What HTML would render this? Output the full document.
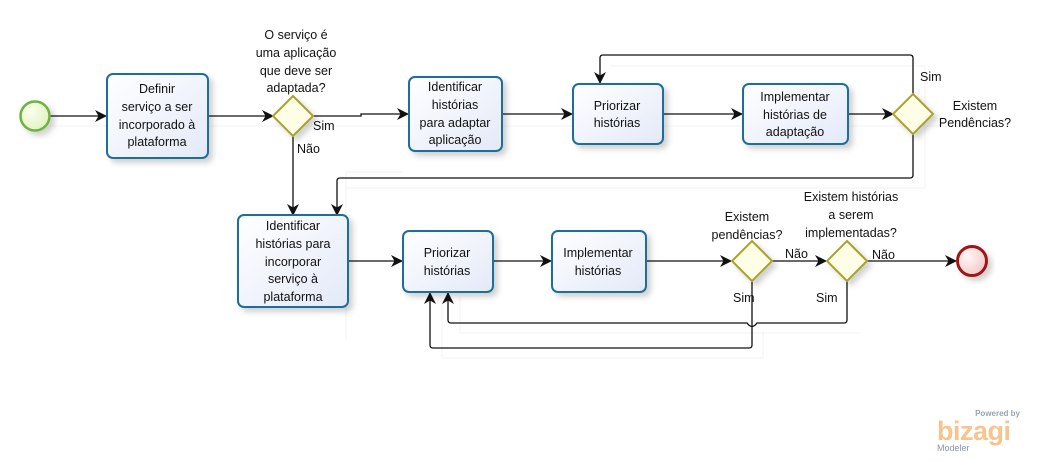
<!DOCTYPE html>
<html><head><meta charset="utf-8"><style>
html,body{margin:0;padding:0;background:#fff;}
svg{display:block;}
text{font-family:"Liberation Sans","DejaVu Sans",sans-serif;font-size:12.5px;fill:#111;}
</style></head><body>
<svg width="1044" height="461" viewBox="0 0 1044 461" xmlns="http://www.w3.org/2000/svg">
<defs>
<linearGradient id="tg" x1="0" y1="0" x2="1" y2="1"><stop offset="0" stop-color="#ffffff"/><stop offset="1" stop-color="#e3e9f8"/></linearGradient>
<radialGradient id="sg" cx="0.35" cy="0.35" r="0.8"><stop offset="0" stop-color="#fbfff0"/><stop offset="1" stop-color="#ddf0b8"/></radialGradient>
<radialGradient id="eg" cx="0.35" cy="0.35" r="0.8"><stop offset="0" stop-color="#fff6f6"/><stop offset="1" stop-color="#efc4c4"/></radialGradient>
<marker id="a" markerWidth="12" markerHeight="12" refX="11" refY="6" orient="auto" markerUnits="userSpaceOnUse"><path d="M0,0 L12,6 L0,12 L3.5,6 z" fill="#111"/></marker>
<filter id="sh" x="-20%" y="-20%" width="150%" height="150%"><feDropShadow dx="4" dy="4" stdDeviation="3" flood-color="#000" flood-opacity="0.18"/></filter>
</defs>

<g stroke="#f3f3f3" fill="none">
<path d="M50,126 H1000"/><path d="M346,172 V340 M346,172 H403"/><path d="M610,66 H925 V188 H346"/>
<path d="M442,297 V358 H763 V330"/><path d="M460,297 V333 H860"/>
</g>

<g fill="none" stroke="#111" stroke-width="1.3">
<path d="M50,116 H106" marker-end="url(#a)"/>
<path d="M208,116 H273" marker-end="url(#a)"/>
<path d="M313,116 H361 V114 H408" marker-end="url(#a)"/>
<path d="M293,136 V215" marker-end="url(#a)"/>
<path d="M502,114 H572" marker-end="url(#a)"/>
<path d="M663,114 H742" marker-end="url(#a)"/>
<path d="M848,114 H893" marker-end="url(#a)"/>
<path d="M913,94 V58 Q913,55 910,55 H603 Q600,55 600,58 V83" marker-end="url(#a)"/>
<path d="M913,134 V175 Q913,178 910,178 H340 Q337,178 337,181 V215" marker-end="url(#a)"/>
<path d="M348,261 H402" marker-end="url(#a)"/>
<path d="M493,261 H551" marker-end="url(#a)"/>
<path d="M646,261 H731" marker-end="url(#a)"/>
<path d="M772,261 H826" marker-end="url(#a)"/>
<path d="M867,261 H956" marker-end="url(#a)"/>
<path d="M752,281 V345 Q752,348 749,348 H433 Q430,348 430,345 V293" marker-end="url(#a)"/>
<path d="M847,281 V320 Q847,323 844,323 H757 Q752,330 747,323 H451 Q448,323 448,320 V293" marker-end="url(#a)"/>
</g>

<circle cx="35" cy="116" r="14.5" fill="url(#sg)" stroke="#6db33f" stroke-width="2.5" filter="url(#sh)"/>
<circle cx="972" cy="261" r="14.5" fill="url(#eg)" stroke="#a01818" stroke-width="3" filter="url(#sh)"/>

<g fill="url(#tg)" stroke="#1f6e9c" stroke-width="2" filter="url(#sh)">
<rect x="107" y="74" width="101" height="84" rx="6"/>
<rect x="409" y="77" width="93" height="74" rx="6"/>
<rect x="573" y="84" width="90" height="60" rx="6"/>
<rect x="743" y="84" width="105" height="60" rx="6"/>
<rect x="238" y="215" width="110" height="92" rx="6"/>
<rect x="403" y="231" width="90" height="61" rx="6"/>
<rect x="552" y="231" width="94" height="61" rx="6"/>
</g>

<g fill="#fefde6" stroke="#a8a22a" stroke-width="2" filter="url(#sh)">
<path d="M293,96 L313,116 L293,136 L273,116 z"/>
<path d="M913,94 L933,114 L913,134 L893,114 z"/>
<path d="M752,241 L772,261 L752,281 L732,261 z"/>
<path d="M847,241 L867,261 L847,281 L827,261 z"/>
</g>

<g text-anchor="middle">
<text x="157" y="93">Definir</text><text x="157" y="111">serviço a ser</text><text x="157" y="129">incorporado à</text><text x="157" y="146">plataforma</text>
<text x="455" y="91">Identificar</text><text x="455" y="109">histórias</text><text x="455" y="127">para adaptar</text><text x="455" y="144">aplicação</text>
<text x="617" y="110">Priorizar</text><text x="617" y="127">histórias</text>
<text x="795" y="101">Implementar</text><text x="795" y="119">histórias de</text><text x="795" y="136">adaptação</text>
<text x="293" y="230">Identificar</text><text x="293" y="248">histórias para</text><text x="293" y="266">incorporar</text><text x="293" y="283">serviço à</text><text x="293" y="301">plataforma</text>
<text x="447" y="257">Priorizar</text><text x="447" y="275">histórias</text>
<text x="598" y="257">Implementar</text><text x="598" y="275">histórias</text>
<text x="296" y="39">O serviço é</text><text x="296" y="57">uma aplicação</text><text x="296" y="75">que deve ser</text><text x="296" y="92">adaptada?</text>
<text x="975" y="110">Existem</text><text x="975" y="127">Pendências?</text>
<text x="747" y="221">Existem</text><text x="747" y="239">pendências?</text>
<text x="851" y="201">Existem histórias</text><text x="851" y="219">a serem</text><text x="851" y="237">implementadas?</text>
</g>
<text x="313" y="130">Sim</text>
<text x="297" y="153">Não</text>
<text x="920" y="81">Sim</text>
<text x="785" y="258">Não</text>
<text x="872" y="259">Não</text>
<text x="733" y="302">Sim</text>
<text x="816" y="302">Sim</text>

<text x="1020" y="416" text-anchor="end" style="font-size:8px;font-weight:bold;fill:#9aa3ad">Powered by</text>
<text x="937" y="440" style="font-size:27px;font-weight:bold;fill:#f6c48e;letter-spacing:-0.5px">bizagi</text>
<text x="937" y="451" style="font-size:9px;fill:#8a96a3">Modeler</text>
</svg>
</body></html>
